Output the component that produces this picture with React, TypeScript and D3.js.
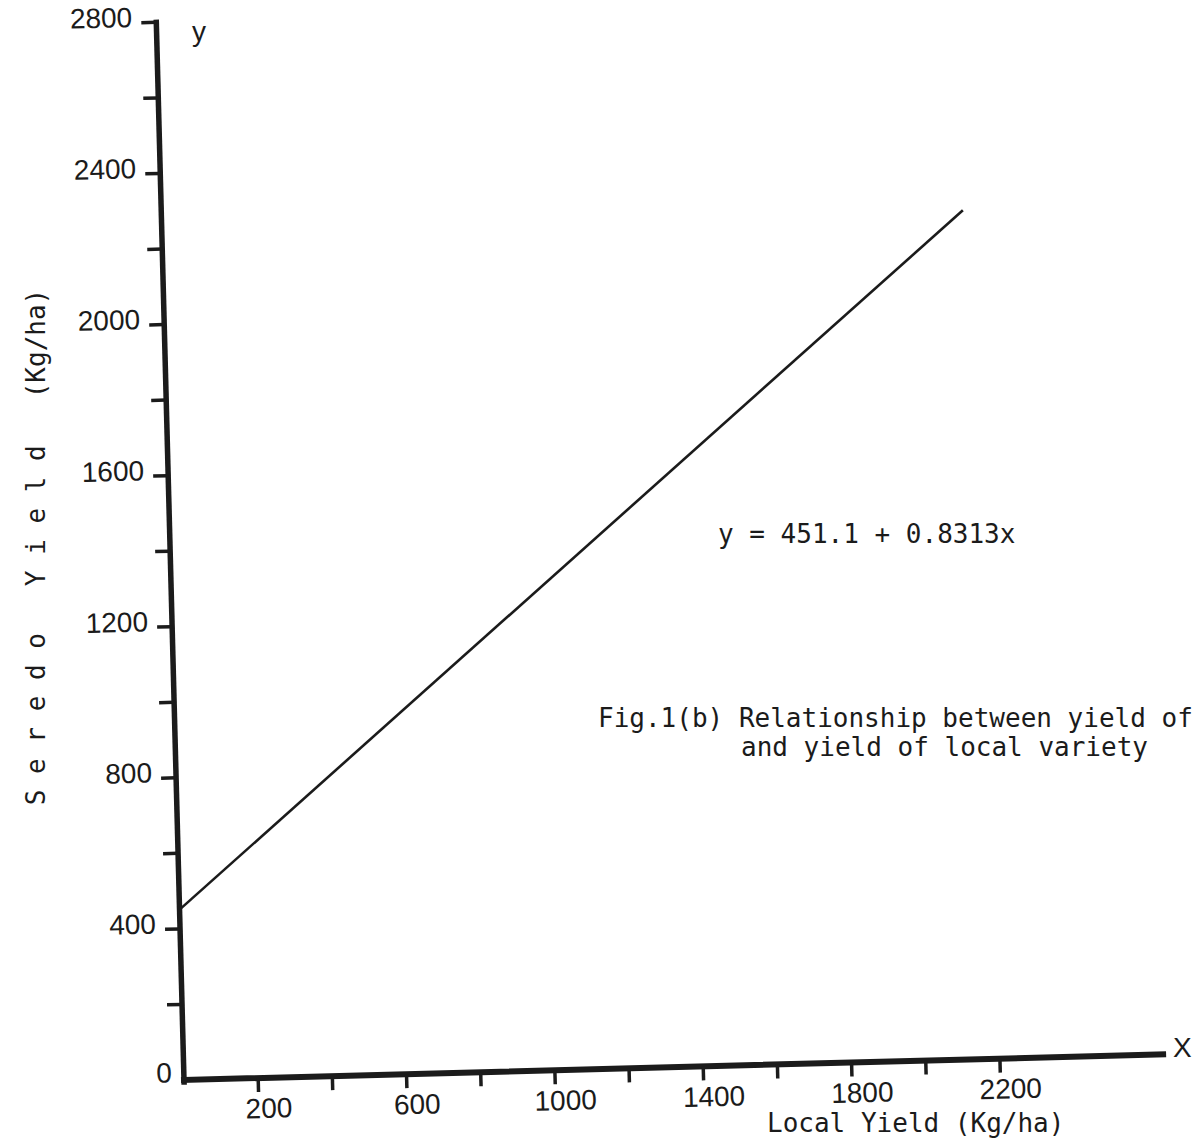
import React from "react";
import * as d3 from "d3";

// values
const xTicks = [200, 400, 600, 800, 1000, 1200, 1400, 1600, 1800, 2000, 2200];
const xTickLabels = [200, 600, 1000, 1400, 1800, 2200];
const yTicks = [200, 400, 600, 800, 1000, 1200, 1400, 1600, 1800, 2000, 2200, 2400, 2600, 2800];
const yTickLabels = [0, 400, 800, 1200, 1600, 2000, 2400, 2800];

// fitted line: local yield (x) vs seredo yield (y)
const lineX = [0, 2160];
const lineY = [451, 2247];

const equation = "y = 451.1 + 0.8313x";
const captionLines = ["Fig.1(b) Relationship between yield of", "and yield of local variety"];

const layout = {
  width: 1192,
  height: 1146,
  originX: 184,
  originY: 1080,
  tilt: -1.5, // the scan is slightly rotated
  xPerUnit: 0.371,
  yLength: 1058,
  xAxisMax: 2640,
  tickLen: 15,
};

const ink = "#1b1b1b";
const sans = "'Liberation Sans', Arial, sans-serif";
const mono = "'DejaVu Sans Mono', 'Liberation Mono', monospace";

const App = () => {
  const xScale = d3.scaleLinear().domain([0, 2800]).range([0, 2800 * layout.xPerUnit]);
  const yScale = d3.scaleLinear().domain([0, 2800]).range([0, -layout.yLength]);

  const fitLine = d3
    .line<number>()
    .x((d) => xScale(lineX[d]))
    .y((d) => yScale(lineY[d]));

  return (
    <svg
      width={layout.width}
      height={layout.height}
      style={{ position: "absolute", left: 0, top: 0, background: "#fff" }}
    >
      <g transform={`translate(${layout.originX},${layout.originY}) rotate(${layout.tilt})`}>
        {/* regression line */}
        <path d={fitLine([0, 1]) || ""} fill="none" stroke={ink} strokeWidth={2.6} />

        {/* axes */}
        <line x1={0} y1={2} x2={0} y2={yScale(2800)} stroke={ink} strokeWidth={5.5} strokeLinecap="square" />
        <line x1={0} y1={0} x2={xScale(layout.xAxisMax)} y2={0} stroke={ink} strokeWidth={6} strokeLinecap="square" />

        {/* y ticks */}
        {yTicks.map((v) => (
          <line
            key={"yt" + v}
            x1={-layout.tickLen}
            x2={0}
            y1={yScale(v)}
            y2={yScale(v)}
            stroke={ink}
            strokeWidth={3.5}
          />
        ))}
        {yTickLabels.map((v) => (
          <text
            key={"yl" + v}
            x={v === 0 ? -12 : -24}
            y={yScale(v) + (v === 0 ? 2 : 4)}
            textAnchor="end"
            fontFamily={sans}
            fontSize={28}
            fill={ink}
          >
            {v}
          </text>
        ))}

        {/* x ticks */}
        {xTicks.map((v) => (
          <line
            key={"xt" + v}
            x1={xScale(v)}
            x2={xScale(v)}
            y1={0}
            y2={14}
            stroke={ink}
            strokeWidth={3.5}
          />
        ))}
        {xTickLabels.map((v) => (
          <text
            key={"xl" + v}
            x={xScale(v) + 10}
            y={40}
            textAnchor="middle"
            fontFamily={sans}
            fontSize={28}
            fill={ink}
          >
            {v}
          </text>
        ))}
      </g>

      {/* axis end letters */}
      <text x={192} y={41} fontFamily={sans} fontSize={28} fill={ink}>y</text>
      <text x={1173} y={1057} fontFamily={sans} fontSize={28} fill={ink}>X</text>

      {/* axis titles */}
      <text
        transform="translate(45,547) rotate(-90)"
        textAnchor="middle"
        fontFamily={mono}
        fontSize={26}
        fill={ink}
        style={{ whiteSpace: "pre" }}
      >
        {"S e r e d o   Y i e l d   (Kg/ha)"}
      </text>
      <text x={767} y={1132} fontFamily={mono} fontSize={26} fill={ink}>
        Local Yield (Kg/ha)
      </text>

      {/* annotation */}
      <text x={718} y={543} fontFamily={mono} fontSize={26} fill={ink}>
        {equation}
      </text>
      <text x={598} y={727} fontFamily={mono} fontSize={26} fill={ink}>
        {captionLines[0]}
      </text>
      <text x={741} y={756} fontFamily={mono} fontSize={26} fill={ink}>
        {captionLines[1]}
      </text>
    </svg>
  );
};

export default App;
